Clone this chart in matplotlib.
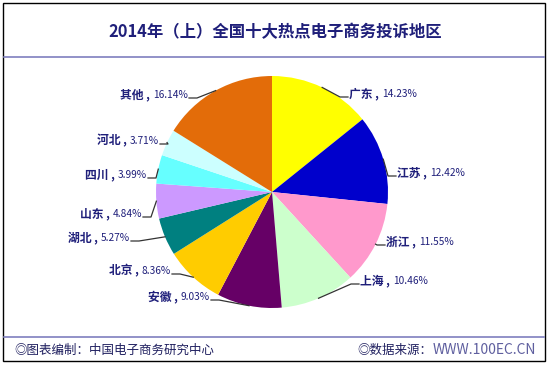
import numpy as np
import matplotlib
matplotlib.use('Agg')
import matplotlib.pyplot as plt
from matplotlib.patches import Rectangle

plt.rcParams['font.family'] = ['Noto Sans CJK SC', 'DejaVu Sans']

regions = ['广东', '江苏', '浙江', '上海', '安徽', '北京', '湖北', '山东', '四川', '河北', '其他']
shares = [14.23, 12.42, 11.55, 10.46, 9.03, 8.36, 5.27, 4.84, 3.99, 3.71, 16.14]
colors = ['#FFFF00', '#0000CC', '#FF99CC', '#CCFFCC', '#660066', '#FFCC00',
          '#008080', '#CC99FF', '#66FFFF', '#CCFFFF', '#E36C09']

# label anchors in pixel coords (x, y from top); side: right labels start at x, left labels end at x
anchors = [(349, 94, 'r'), (397, 173, 'r'), (386, 242, 'r'), (360, 281, 'r'),
           (210, 297, 'l'), (171, 271, 'l'), (130, 238, 'l'), (142, 214, 'l'),
           (147, 175, 'l'), (159, 141, 'l'), (188, 95, 'l')]

W, H = 548, 366
navy = '#1F1F7A'

fig = plt.figure(figsize=(W / 100, H / 100), dpi=100)
ax = fig.add_axes([0, 0, 1, 1])

# frame and separators
ax.add_patch(Rectangle((3, H - 361), 542, 358, fill=False, ec='#000000', lw=1))
ax.plot([4, 544], [H - 57, H - 57], color='#7F7FBF', lw=1.2)
ax.plot([4, 544], [H - 337, H - 337], color='#7F7FBF', lw=1.2)

cx, cy, r = 272, H - 192, 116
wedges, _ = ax.pie(shares, colors=colors, startangle=90, counterclock=False,
                   center=(cx, cy), radius=r, frame=True)
ax.set_xlim(0, W)
ax.set_ylim(0, H)
ax.set_aspect('equal')
ax.axis('off')

ax.text(W / 2 + 1, H - 32, '2014年（上）全国十大热点电子商务投诉地区', ha='center', va='center',
        fontsize=11.8, fontweight='bold', color=navy)

fig.canvas.draw()
renderer = fig.canvas.get_renderer()

for w, name, val, (lx, ly, side) in zip(wedges, regions, shares, anchors):
    mid = np.deg2rad((w.theta1 + w.theta2) / 2)
    ex, ey = cx + r * np.cos(mid), cy + r * np.sin(mid)
    py = H - ly
    if side == 'r':
        ax.plot([ex, lx - 9, lx - 1], [ey, py - 3, py - 3], color='#333333', lw=0.9)
        t1 = ax.text(lx, py, name + ' ,', ha='left', va='center', fontsize=8.5,
                     fontweight='bold', color=navy)
        bb = t1.get_window_extent(renderer)
        ax.text(bb.x1 + 3, py, '%.2f%%' % val, ha='left', va='center', fontsize=7.3, color=navy)
    else:
        ax.plot([ex, lx + 9, lx + 1], [ey, py - 3, py - 3], color='#333333', lw=0.9)
        t2 = ax.text(lx, py, '%.2f%%' % val, ha='right', va='center', fontsize=7.3, color=navy)
        bb = t2.get_window_extent(renderer)
        ax.text(bb.x0 - 3, py, name + ' ,', ha='right', va='center', fontsize=8.5,
                fontweight='bold', color=navy)

ax.text(14, H - 350, '◎图表编制：中国电子商务研究中心', ha='left', va='center', fontsize=9, color='#1F1F5F')
t3 = ax.text(536, H - 350, 'WWW.100EC.CN', ha='right', va='center', fontsize=10, color='#5F5F9F')
fig.canvas.draw()
bb = t3.get_window_extent(renderer)
ax.text(bb.x0, H - 350, '◎数据来源：', ha='right', va='center', fontsize=9, color='#1F1F5F')

fig.savefig('out.png', dpi=100)
